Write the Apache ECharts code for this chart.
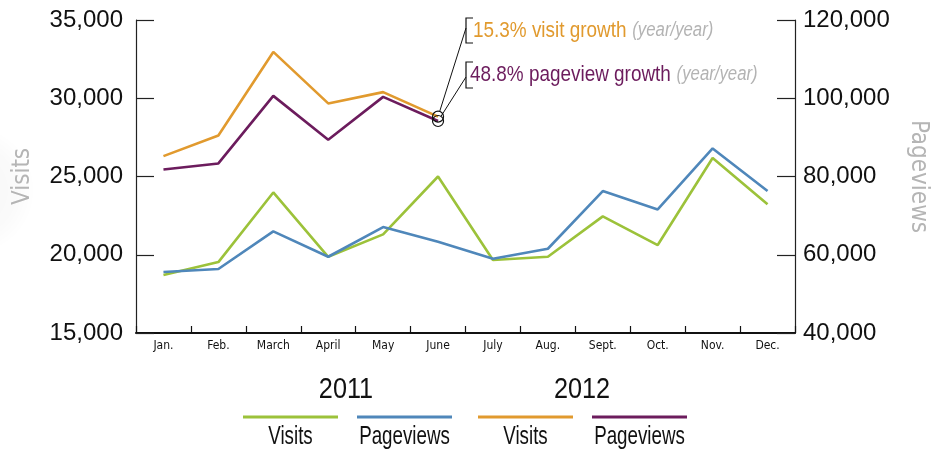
<!DOCTYPE html>
<html>
<head>
<meta charset="utf-8">
<script src="https://cdn.jsdelivr.net/npm/echarts@6/dist/echarts.min.js"></script>
<style>
  html, body { margin: 0; padding: 0; background: #fff; }
  #chart { width: 942px; height: 451px; }
</style>
</head>
<body>
<div id="chart"></div>
<script>
// Monthly traffic, 2011 vs 2012
const months = ['Jan.', 'Feb.', 'March', 'April', 'May', 'June', 'July', 'Aug.', 'Sept.', 'Oct.', 'Nov.', 'Dec.'];
const visits2011 = [18700, 19530, 23980, 19870, 21300, 25000, 19660, 19870, 22450, 20620, 26180, 23220];
const pageviews2011 = [55580, 56350, 65970, 59490, 67070, 63300, 58980, 61530, 76270, 71590, 87170, 76270];
const visits2012 = [26300, 27620, 32960, 29670, 30390, 28825];
const pageviews2012 = [81810, 83340, 100610, 89370, 100350, 94190];
const visitTicks = [15000, 20000, 25000, 30000, 35000];
const pageviewTicks = [40000, 60000, 80000, 100000, 120000];

const COLORS = { v11: '#9cc23a', p11: '#4f87ba', v12: '#e19a2e', p12: '#6c1c5d' };
const CONDENSED = "'DejaVu Sans Condensed', 'DejaVu Sans', sans-serif";
const SANS = "'Liberation Sans', Arial, sans-serif";

const fmt = v => v.toLocaleString('en-US');
const lastIdx = visits2012.length - 1;
const visitGrowth = ((visits2012[lastIdx] / visits2011[lastIdx] - 1) * 100).toFixed(1);
const pageviewGrowth = ((pageviews2012[lastIdx] / pageviews2011[lastIdx] - 1) * 100).toFixed(1);

// the latest 2012 month carries a hollow ring marker
function ringed(values) {
  return values.map((v, i) => i === values.length - 1
    ? { value: v, symbol: 'circle', symbolSize: 11,
        itemStyle: { color: 'rgba(0,0,0,0)', borderColor: '#111', borderWidth: 1.2 } }
    : v);
}

const chart = echarts.init(document.getElementById('chart'), null, { renderer: 'canvas' });

const lineSeries = (name, data, yIdx, color) => ({
  name, type: 'line', data, yAxisIndex: yIdx,
  symbol: 'none', showSymbol: true, smooth: false,
  lineStyle: { color, width: 2.6 }, itemStyle: { color },
  emphasis: { disabled: true }, silent: true, animation: false
});

const valueAxis = (ticks, position, name, rotate, gap) => ({
  type: 'value', position,
  min: ticks[0], max: ticks[ticks.length - 1], interval: ticks[1] - ticks[0],
  name, nameLocation: 'middle', nameRotate: rotate, nameGap: gap,
  nameTextStyle: { color: '#b5b5b5', fontFamily: CONDENSED, fontSize: 24 },
  axisLine: { show: true, lineStyle: { color: '#222', width: 1.2 } },
  axisTick: { show: true, inside: true, length: 18, lineStyle: { color: '#222', width: 1.2 } },
  splitLine: { show: false },
  axisLabel: { color: '#111', fontFamily: SANS, fontSize: 24,
               margin: position === 'left' ? 13 : 8, formatter: fmt }
});

chart.setOption({
  animation: false,
  grid: { left: 136, right: 147, top: 20, bottom: 118 },
  xAxis: {
    type: 'category', data: months, boundaryGap: true,
    axisLine: { show: true, lineStyle: { color: '#111', width: 2 } },
    axisTick: { show: true, inside: true, length: 7, lineStyle: { color: '#111', width: 1.2 } },
    axisLabel: { color: '#111', fontFamily: CONDENSED, fontSize: 12, margin: 7 },
    splitLine: { show: false }
  },
  yAxis: [
    valueAxis(visitTicks, 'left', 'Visits', 90, 101),
    valueAxis(pageviewTicks, 'right', 'Pageviews', -90, 111)
  ],
  series: [
    lineSeries('2011 Visits', visits2011, 0, COLORS.v11),
    lineSeries('2011 Pageviews', pageviews2011, 1, COLORS.p11),
    lineSeries('2012 Visits', ringed(visits2012), 0, COLORS.v12),
    lineSeries('2012 Pageviews', ringed(pageviews2012), 1, COLORS.p12)
  ]
});

// callouts: leader lines from the ringed points to bracketed growth notes
const vPt = chart.convertToPixel({ seriesIndex: 2 }, [lastIdx, visits2012[lastIdx]]);
const pPt = chart.convertToPixel({ seriesIndex: 3 }, [lastIdx, pageviews2012[lastIdx]]);
const R = 5.5;
function leader(from, to) {
  const dx = to[0] - from[0], dy = to[1] - from[1];
  const d = Math.hypot(dx, dy);
  return { type: 'line', silent: true,
    shape: { x1: from[0] + dx / d * R, y1: from[1] + dy / d * R, x2: to[0], y2: to[1] },
    style: { stroke: '#111', lineWidth: 1 } };
}
function bracket(x, y1, y2) {
  return { type: 'polyline', silent: true,
    shape: { points: [[x + 7, y1], [x, y1], [x, y2], [x + 7, y2]] },
    style: { stroke: '#111', lineWidth: 1.2, fill: null } };
}
// narrow lettering: a sans face squeezed horizontally
function note(x, y, main, color) {
  return { type: 'text', x, y, scaleX: 0.86, silent: true,
    style: {
      text: '{m|' + main + '}  {g|(year/year)}',
      verticalAlign: 'middle', align: 'left',
      rich: {
        m: { fill: color, fontFamily: SANS, fontSize: 22 },
        g: { fill: '#b3b3b3', fontFamily: SANS, fontSize: 19.5, fontStyle: 'italic' }
      }
    } };
}

// legend: year headings over two swatches each, labels underneath
const legendItems = [
  { x1: 243, x2: 338, color: COLORS.v11, label: 'Visits' },
  { x1: 357, x2: 452, color: COLORS.p11, label: 'Pageviews' },
  { x1: 478, x2: 573, color: COLORS.v12, label: 'Visits' },
  { x1: 592, x2: 687, color: COLORS.p12, label: 'Pageviews' }
];
const years = [{ x: 346, text: '2011' }, { x: 582, text: '2012' }];

const graphics = [
  // faint grey glow at the left edge behind the axis title
  { type: 'circle', silent: true, z: -10, shape: { cx: -30, cy: 190, r: 65 },
    style: { fill: new echarts.graphic.RadialGradient(0.5, 0.5, 0.5, [
      { offset: 0, color: 'rgba(0,0,0,0.03)' },
      { offset: 0.7, color: 'rgba(0,0,0,0.018)' },
      { offset: 1, color: 'rgba(0,0,0,0)' }]) } },
  leader(vPt, [466, 28]),
  leader(pPt, [466, 77]),
  bracket(466, 18, 43),
  bracket(466, 62, 88),
  note(473, 31, visitGrowth + '% visit growth', COLORS.v12),
  note(470, 75, pageviewGrowth + '% pageview growth', COLORS.p12)
];
years.forEach(y => graphics.push({ type: 'text', x: y.x, y: 390, scaleX: 0.87, silent: true,
  style: { text: y.text, fill: '#111', fontFamily: SANS, fontSize: 29, align: 'center', verticalAlign: 'middle' } }));
legendItems.forEach(it => {
  graphics.push({ type: 'line', silent: true,
    shape: { x1: it.x1, y1: 417, x2: it.x2, y2: 417 },
    style: { stroke: it.color, lineWidth: 3 } });
  graphics.push({ type: 'text', x: (it.x1 + it.x2) / 2, y: 437, scaleX: 0.75, silent: true,
    style: { text: it.label, fill: '#111', fontFamily: SANS, fontSize: 25, align: 'center', verticalAlign: 'middle' } });
});
chart.setOption({ graphic: graphics });
</script>
</body>
</html>
